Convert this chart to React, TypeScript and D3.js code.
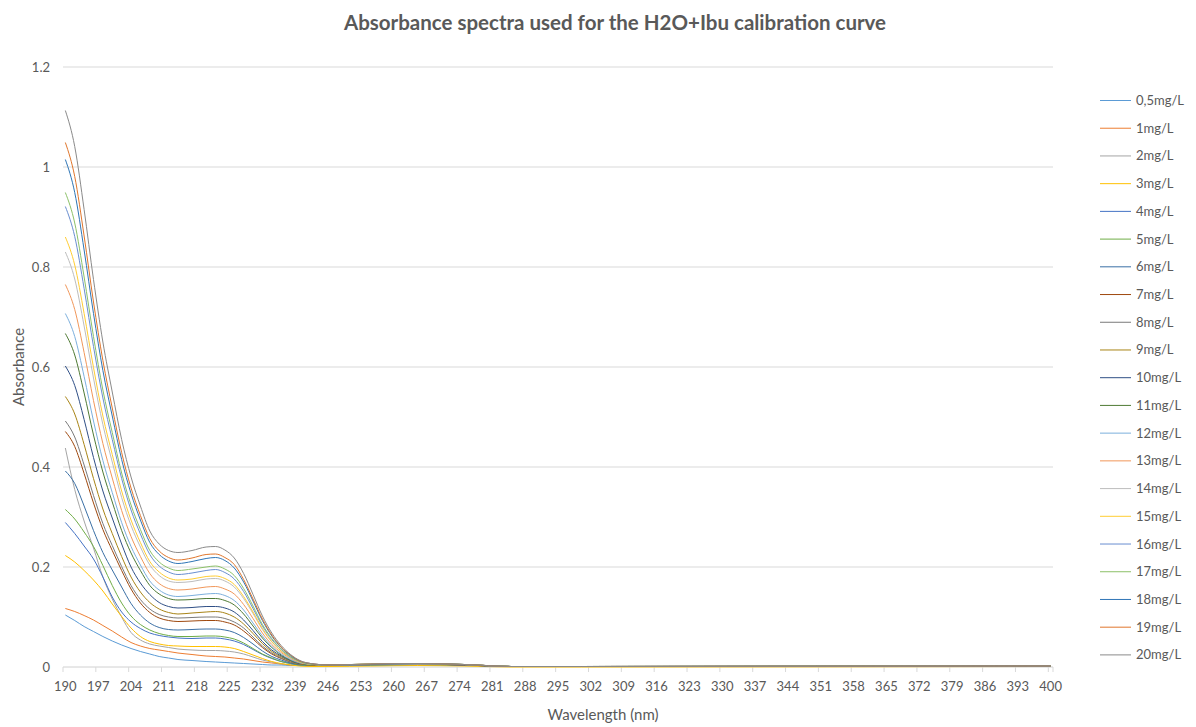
import React from 'react';
import * as d3 from 'd3';

// Wavelengths (nm) at which each absorbance spectrum is sampled
const wavelengths = [190, 192, 194, 196, 198, 200, 202, 204, 206, 208, 210, 212, 214, 217, 220, 222, 224, 226, 228, 230, 232, 234, 236, 238, 240, 243, 246, 255, 265, 275, 285, 300, 400];

// Absorbance per standard concentration
const abs0_5 = [0.104, 0.093, 0.081, 0.071, 0.061, 0.052, 0.044, 0.037, 0.031, 0.026, 0.021, 0.018, 0.015, 0.013, 0.011, 0.010, 0.009, 0.008, 0.007, 0.006, 0.005, 0.004, 0.004, 0.003, 0.003, 0.003, 0.003, 0.004, 0.004, 0.003, 0.001, 0.001, 0.001];
const abs1 = [0.117, 0.111, 0.103, 0.094, 0.083, 0.072, 0.060, 0.049, 0.042, 0.037, 0.034, 0.031, 0.028, 0.025, 0.022, 0.021, 0.020, 0.018, 0.016, 0.013, 0.010, 0.008, 0.006, 0.004, 0.003, 0.003, 0.003, 0.004, 0.005, 0.004, 0.001, 0.001, 0.002];
const abs2 = [0.438, 0.355, 0.292, 0.238, 0.180, 0.136, 0.100, 0.069, 0.054, 0.046, 0.042, 0.039, 0.036, 0.034, 0.033, 0.033, 0.032, 0.030, 0.026, 0.020, 0.014, 0.010, 0.006, 0.004, 0.003, 0.002, 0.002, 0.004, 0.005, 0.004, 0.001, 0.001, 0.002];
const abs3 = [0.223, 0.210, 0.193, 0.174, 0.152, 0.126, 0.101, 0.078, 0.061, 0.051, 0.046, 0.043, 0.042, 0.041, 0.041, 0.041, 0.040, 0.037, 0.031, 0.024, 0.017, 0.011, 0.007, 0.004, 0.002, 0.001, 0.001, 0.002, 0.003, 0.002, 0.000, 0.000, 0.001];
const abs4 = [0.289, 0.267, 0.242, 0.216, 0.180, 0.140, 0.110, 0.090, 0.077, 0.068, 0.063, 0.060, 0.058, 0.057, 0.058, 0.058, 0.056, 0.052, 0.045, 0.035, 0.025, 0.017, 0.011, 0.007, 0.004, 0.003, 0.003, 0.004, 0.005, 0.004, 0.001, 0.001, 0.002];
const abs5 = [0.315, 0.296, 0.270, 0.241, 0.203, 0.163, 0.128, 0.102, 0.085, 0.074, 0.067, 0.063, 0.061, 0.061, 0.062, 0.062, 0.060, 0.056, 0.048, 0.037, 0.026, 0.018, 0.011, 0.007, 0.004, 0.003, 0.003, 0.004, 0.005, 0.004, 0.001, 0.001, 0.002];
const abs6 = [0.392, 0.367, 0.322, 0.273, 0.229, 0.194, 0.160, 0.127, 0.104, 0.088, 0.079, 0.075, 0.074, 0.075, 0.076, 0.076, 0.074, 0.069, 0.059, 0.046, 0.032, 0.021, 0.014, 0.008, 0.005, 0.004, 0.003, 0.005, 0.006, 0.004, 0.001, 0.001, 0.002];
const abs7 = [0.471, 0.441, 0.387, 0.328, 0.275, 0.233, 0.193, 0.156, 0.128, 0.109, 0.098, 0.093, 0.091, 0.092, 0.093, 0.093, 0.090, 0.084, 0.072, 0.056, 0.039, 0.026, 0.017, 0.010, 0.006, 0.004, 0.004, 0.005, 0.006, 0.004, 0.001, 0.001, 0.002];
const abs8 = [0.492, 0.460, 0.404, 0.343, 0.287, 0.243, 0.201, 0.163, 0.135, 0.116, 0.105, 0.100, 0.098, 0.099, 0.100, 0.100, 0.097, 0.090, 0.078, 0.060, 0.042, 0.028, 0.018, 0.010, 0.006, 0.004, 0.004, 0.005, 0.006, 0.004, 0.001, 0.001, 0.002];
const abs9 = [0.541, 0.506, 0.445, 0.377, 0.316, 0.267, 0.221, 0.180, 0.150, 0.129, 0.116, 0.109, 0.106, 0.108, 0.110, 0.111, 0.108, 0.100, 0.086, 0.067, 0.047, 0.031, 0.020, 0.012, 0.006, 0.004, 0.004, 0.005, 0.006, 0.005, 0.001, 0.001, 0.002];
const abs10 = [0.602, 0.563, 0.495, 0.419, 0.352, 0.298, 0.246, 0.200, 0.168, 0.145, 0.129, 0.121, 0.118, 0.119, 0.121, 0.121, 0.118, 0.110, 0.094, 0.073, 0.051, 0.034, 0.022, 0.013, 0.007, 0.005, 0.004, 0.005, 0.006, 0.005, 0.001, 0.001, 0.002];
const abs11 = [0.667, 0.624, 0.548, 0.464, 0.390, 0.330, 0.273, 0.228, 0.193, 0.163, 0.146, 0.137, 0.134, 0.135, 0.137, 0.137, 0.133, 0.124, 0.106, 0.082, 0.058, 0.039, 0.024, 0.014, 0.008, 0.005, 0.004, 0.006, 0.007, 0.005, 0.001, 0.001, 0.002];
const abs12 = [0.707, 0.661, 0.581, 0.492, 0.413, 0.349, 0.289, 0.241, 0.204, 0.172, 0.154, 0.144, 0.141, 0.143, 0.146, 0.147, 0.143, 0.133, 0.114, 0.088, 0.062, 0.041, 0.026, 0.015, 0.008, 0.005, 0.004, 0.005, 0.006, 0.005, 0.001, 0.001, 0.002];
const abs13 = [0.765, 0.715, 0.629, 0.533, 0.447, 0.378, 0.313, 0.261, 0.221, 0.187, 0.167, 0.157, 0.154, 0.156, 0.160, 0.161, 0.156, 0.146, 0.125, 0.097, 0.068, 0.045, 0.029, 0.017, 0.009, 0.005, 0.004, 0.005, 0.006, 0.005, 0.001, 0.001, 0.002];
const abs14 = [0.830, 0.776, 0.682, 0.578, 0.485, 0.410, 0.339, 0.283, 0.240, 0.204, 0.183, 0.172, 0.169, 0.171, 0.176, 0.177, 0.172, 0.160, 0.137, 0.107, 0.075, 0.050, 0.032, 0.018, 0.010, 0.005, 0.004, 0.006, 0.007, 0.005, 0.001, 0.001, 0.002];
const abs15 = [0.860, 0.804, 0.707, 0.599, 0.502, 0.425, 0.352, 0.294, 0.249, 0.211, 0.190, 0.178, 0.174, 0.176, 0.181, 0.182, 0.177, 0.165, 0.141, 0.110, 0.077, 0.051, 0.032, 0.019, 0.010, 0.005, 0.004, 0.005, 0.006, 0.005, 0.001, 0.001, 0.002];
const abs16 = [0.921, 0.861, 0.757, 0.641, 0.538, 0.455, 0.377, 0.314, 0.266, 0.225, 0.202, 0.190, 0.185, 0.188, 0.193, 0.195, 0.189, 0.176, 0.151, 0.117, 0.082, 0.055, 0.035, 0.020, 0.011, 0.005, 0.004, 0.005, 0.006, 0.005, 0.001, 0.001, 0.002];
const abs17 = [0.949, 0.888, 0.780, 0.661, 0.554, 0.469, 0.388, 0.324, 0.275, 0.233, 0.210, 0.198, 0.193, 0.196, 0.200, 0.202, 0.196, 0.183, 0.157, 0.122, 0.085, 0.057, 0.036, 0.021, 0.011, 0.005, 0.004, 0.006, 0.007, 0.005, 0.001, 0.001, 0.002];
const abs18 = [1.015, 0.949, 0.834, 0.707, 0.593, 0.502, 0.415, 0.347, 0.294, 0.249, 0.225, 0.212, 0.207, 0.211, 0.217, 0.219, 0.213, 0.198, 0.170, 0.132, 0.093, 0.062, 0.039, 0.023, 0.012, 0.006, 0.004, 0.005, 0.007, 0.005, 0.001, 0.001, 0.002];
const abs19 = [1.049, 0.981, 0.862, 0.730, 0.613, 0.518, 0.429, 0.358, 0.303, 0.257, 0.232, 0.219, 0.214, 0.218, 0.225, 0.226, 0.219, 0.205, 0.175, 0.136, 0.096, 0.064, 0.040, 0.024, 0.012, 0.006, 0.004, 0.006, 0.007, 0.005, 0.001, 0.001, 0.002];
const abs20 = [1.113, 1.041, 0.915, 0.775, 0.650, 0.550, 0.455, 0.380, 0.322, 0.272, 0.246, 0.233, 0.229, 0.233, 0.240, 0.241, 0.234, 0.218, 0.187, 0.145, 0.102, 0.068, 0.043, 0.025, 0.013, 0.006, 0.004, 0.006, 0.007, 0.005, 0.001, 0.001, 0.002];

const seriesLabels = ['0,5mg/L', '1mg/L', '2mg/L', '3mg/L', '4mg/L', '5mg/L', '6mg/L', '7mg/L', '8mg/L', '9mg/L', '10mg/L', '11mg/L', '12mg/L', '13mg/L', '14mg/L', '15mg/L', '16mg/L', '17mg/L', '18mg/L', '19mg/L', '20mg/L'];
const seriesValues = [abs0_5, abs1, abs2, abs3, abs4, abs5, abs6, abs7, abs8, abs9, abs10, abs11, abs12, abs13, abs14, abs15, abs16, abs17, abs18, abs19, abs20];
const seriesColors = ['#5B9BD5', '#ED7D31', '#A5A5A5', '#FFC000', '#4472C4', '#70AD47', '#3A6FA5', '#9E480E', '#7A7A7A', '#A88416', '#2F4F86', '#4F7A34', '#7CAFDD', '#F1975A', '#BDBDBD', '#FFCD33', '#698ED0', '#8CC168', '#2E75B6', '#E0762C', '#8A8A8A'];

const xTickLabels = [190, 197, 204, 211, 218, 225, 232, 239, 246, 253, 260, 267, 274, 281, 288, 295, 302, 309, 316, 323, 330, 337, 344, 351, 358, 365, 372, 379, 386, 393, 400];
const yTickLabels = [0, 0.2, 0.4, 0.6, 0.8, 1, 1.2];

const W = 1196;
const H = 727;
const M = { left: 63, right: 1053, top: 67, bottom: 667 };
const FONT = 'Lato, "Open Sans", sans-serif';
const TEXT = '#595959';
const GRID = '#D9D9D9';

export default function App() {
  const x = d3.scaleLinear().domain([189.5, 400.5]).range([M.left, M.right]);
  const y = d3.scaleLinear().domain([0, 1.2]).range([M.bottom, M.top]);

  const line = d3
    .line<number>()
    .x((_, i) => x(wavelengths[i]))
    .y((d) => y(d))
    .curve(d3.curveMonotoneX);

  const tickMarks = [...xTickLabels.map((v) => v - 0.5), 400.5];
  const legendY = (i: number) => 100.5 + i * 27.72;

  return (
    <svg
      width={W}
      height={H}
      style={{ position: 'absolute', left: 0, top: 0, background: '#fff' }}
      fontFamily={FONT}
    >
      <rect width={W} height={H} fill="#fff" />

      <text x={615} y={30} textAnchor="middle" fontSize={20.5} fontWeight={700} fill={TEXT}>
        Absorbance spectra used for the H2O+Ibu calibration curve
      </text>

      {/* horizontal gridlines */}
      {yTickLabels.map((v) => (
        <line key={`g${v}`} x1={M.left} x2={M.right} y1={y(v)} y2={y(v)} stroke={v === 0 ? '#D0D0D0' : GRID} strokeWidth={1} />
      ))}

      {/* y tick labels */}
      {yTickLabels.map((v) => (
        <text key={`yl${v}`} x={50} y={y(v) + 4.5} textAnchor="end" fontSize={13} fill={TEXT}>
          {String(v)}
        </text>
      ))}

      {/* x tick marks and labels */}
      {tickMarks.map((v) => (
        <line key={`t${v}`} x1={x(v)} x2={x(v)} y1={M.bottom} y2={M.bottom + 5} stroke={GRID} strokeWidth={1} />
      ))}
      {xTickLabels.map((v) => (
        <text key={`xl${v}`} x={x(v)} y={691} textAnchor="middle" fontSize={13} fill={TEXT}>
          {v}
        </text>
      ))}

      {/* spectra */}
      <g fill="none" strokeWidth={1} strokeLinejoin="round">
        {seriesValues.map((vals, i) => (
          <path key={seriesLabels[i]} d={line(vals) ?? ''} stroke={seriesColors[i]} />
        ))}
      </g>

      {/* axis titles */}
      <text x={603} y={720} textAnchor="middle" fontSize={15} fill={TEXT}>
        Wavelength (nm)
      </text>
      <text transform={`translate(24,367) rotate(-90)`} textAnchor="middle" fontSize={15} fill={TEXT}>
        Absorbance
      </text>

      {/* legend */}
      {seriesLabels.map((label, i) => (
        <g key={`lg${label}`}>
          <line x1={1100} x2={1131} y1={legendY(i)} y2={legendY(i)} stroke={seriesColors[i]} strokeWidth={1} />
          <text x={1136} y={legendY(i) + 4.5} fontSize={13} fill={TEXT}>
            {label}
          </text>
        </g>
      ))}
    </svg>
  );
}
